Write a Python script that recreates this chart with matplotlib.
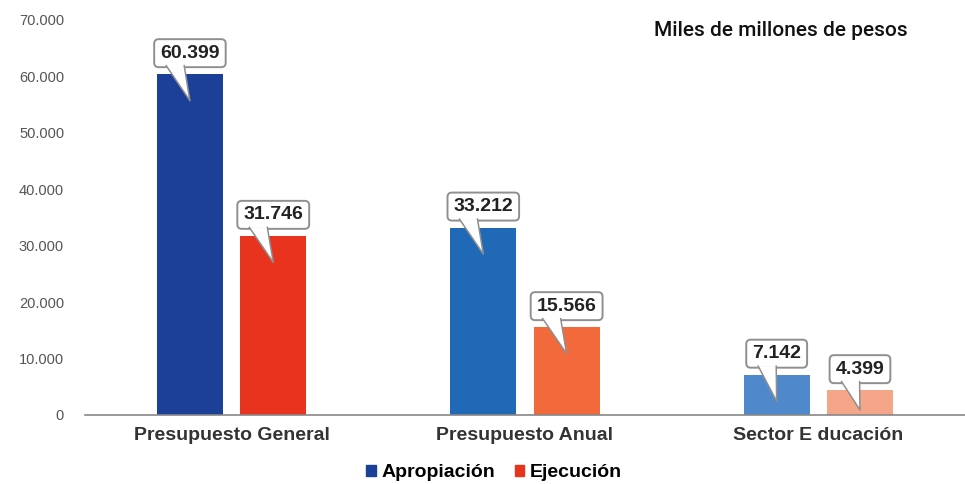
import numpy as np
import matplotlib
matplotlib.use("Agg")
import matplotlib.pyplot as plt
from matplotlib.patches import Patch, FancyBboxPatch, Polygon
from matplotlib.ticker import FuncFormatter
from matplotlib.transforms import ScaledTranslation

# data (miles de millones de pesos)
categorias = ["Presupuesto General", "Presupuesto Anual", "Sector E ducación"]
apropiacion = [60399, 33212, 7142]
ejecucion = [31746, 15566, 4399]
etiquetas_ap = ["60.399", "33.212", "7.142"]
etiquetas_ej = ["31.746", "15.566", "4.399"]
y_ticks = [0, 10000, 20000, 30000, 40000, 50000, 60000, 70000]

colores_ap = ["#1c3f98", "#1f69b6", "#4f88cb"]
colores_ej = ["#e8341f", "#f26a3b", "#f6a688"]

plt.rcParams["font.family"] = ["Liberation Sans", "DejaVu Sans"]

fig = plt.figure(figsize=(9.65, 4.84), dpi=100)
ax = fig.add_axes([0.088, 0.1426, 0.912, 0.8161])

x = np.arange(len(categorias))
w = 0.225
off = 0.142

ax.bar(x - off, apropiacion, w, color=colores_ap, zorder=2)
ax.bar(x + off, ejecucion, w, color=colores_ej, zorder=2)

ax.set_xlim(-0.5, 2.5)
ax.set_ylim(0, 70000)
ax.set_yticks(y_ticks)
ax.yaxis.set_major_formatter(FuncFormatter(lambda v, p: f"{int(v):,}".replace(",", ".")))
ax.tick_params(axis="y", length=0, pad=15, labelsize=10.5, labelcolor="#555555")
ax.set_xticks(x)
ax.set_xticklabels(categorias, fontsize=14, fontweight="bold", color="#333333")
ax.tick_params(axis="x", length=0, pad=9)

for s in ["top", "right", "left"]:
    ax.spines[s].set_visible(False)
ax.spines["bottom"].set_color("#888888")
ax.spines["bottom"].set_linewidth(1.2)

fig.canvas.draw()
renderer = fig.canvas.get_renderer()
px_y = 70000 / ax.get_window_extent().height  # data units per pixel
dpi = fig.dpi

# callouts, geometry in pixels relative to the top of each bar
box_c = 21
box_h = 28
for i in range(len(categorias)):
    for xc, v, t in [(x[i] - off, apropiacion[i], etiquetas_ap[i]),
                     (x[i] + off, ejecucion[i], etiquetas_ej[i])]:
        tr = fig.dpi_scale_trans + ScaledTranslation(xc, v, ax.transData)
        txt = ax.text(0, box_c / dpi, t, transform=tr, ha="center", va="center",
                      fontsize=14, fontweight="bold", color="#222222", zorder=8)
        tw = txt.get_window_extent(renderer).width
        bw = tw + 12
        box = FancyBboxPatch(((-bw / 2) / dpi, (box_c - box_h / 2) / dpi),
                             bw / dpi, box_h / dpi,
                             boxstyle="round,pad=0,rounding_size=0.045",
                             transform=tr, fc="white", ec="#8f8f8f", lw=1.4, zorder=5)
        ax.add_patch(box)
        depth = min(4700, 0.8 * v) / px_y
        base = box_c - box_h / 2 + 1.5
        pts = np.array([[-bw / 2 + 12, base], [0, -depth], [-bw / 2 + 30, base]]) / dpi
        ax.add_patch(Polygon(pts, closed=False, transform=tr, fc="white", ec="none", zorder=6))
        ax.plot(pts[:, 0], pts[:, 1], transform=tr, color="#8f8f8f", lw=1.1, zorder=7)

fig.text(0.678, 0.938, "Miles de millones de pesos", fontsize=15, va="center",
         family=["Roboto", "DejaVu Sans"], fontweight="medium", color="#111111")

handles = [Patch(color=colores_ap[0], label="Apropiación"),
           Patch(color=colores_ej[0], label="Ejecución")]
fig.legend(handles=handles, loc="center", bbox_to_anchor=(0.512, 0.023), ncol=2,
           frameon=False, handlelength=0.5, handleheight=0.5, handletextpad=0.3,
           columnspacing=1.0, prop=dict(weight="bold", size=14))

fig.savefig("out.png", dpi=100, facecolor="white")
